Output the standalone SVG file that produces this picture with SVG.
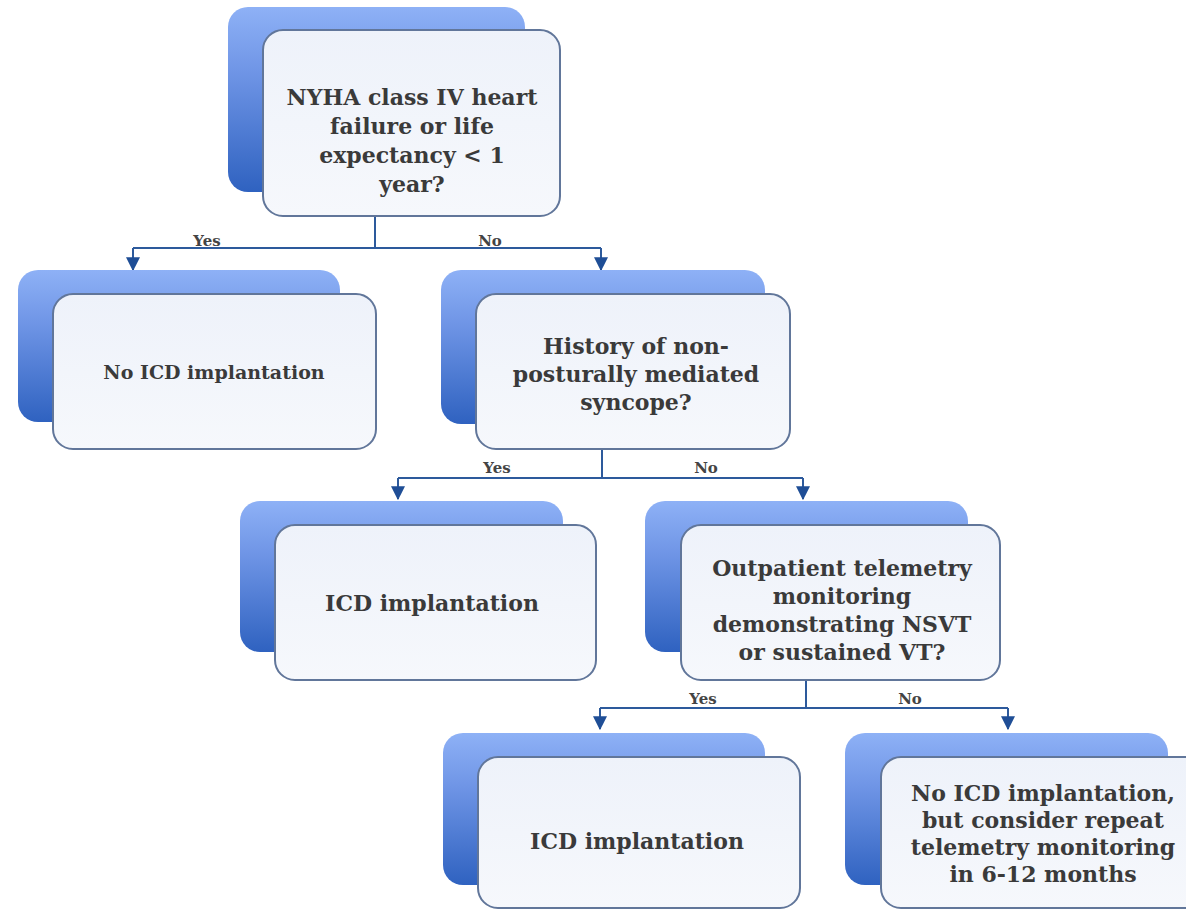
<svg xmlns="http://www.w3.org/2000/svg" width="1186" height="910" viewBox="0 0 1186 910">
  <defs>
    <linearGradient id="backFill" x1="0" y1="0" x2="0" y2="1">
      <stop offset="0" stop-color="#8eb1f6"/>
      <stop offset="0.35" stop-color="#6f95e6"/>
      <stop offset="1" stop-color="#2f62c0"/>
    </linearGradient>
    <linearGradient id="frontFill" x1="0" y1="0" x2="0" y2="1">
      <stop offset="0" stop-color="#eef2fa"/>
      <stop offset="1" stop-color="#f6f8fc"/>
    </linearGradient>
    <marker id="arrowhead" viewBox="0 0 12 12" refX="11" refY="6" markerWidth="14" markerHeight="14" markerUnits="userSpaceOnUse" orient="auto">
      <path d="M0,0 L12,6 L0,12 Z" fill="#1f4e96"/>
    </marker>
  </defs>
  <style>
    .back { fill: url(#backFill); }
    .front { fill: url(#frontFill); stroke: #61769a; stroke-width: 2; }
    .txt { font-family: "DejaVu Serif", "Liberation Serif", serif; font-weight: bold; fill: #3a3a3a; text-anchor: middle; font-size: 22px; }
    .lbl { font-family: "DejaVu Serif", "Liberation Serif", serif; font-weight: bold; fill: #444; font-size: 15px; text-anchor: middle; }
    .wire { fill: none; stroke: #2d5a9c; stroke-width: 2; }
  </style>
  <rect width="1186" height="910" fill="#ffffff"/>

  <!-- connectors -->
  <g id="connectors">
    <path class="wire" d="M375,216 V248 M133,248 H601"/>
    <path class="wire" d="M133,248 V270" marker-end="url(#arrowhead)"/>
    <path class="wire" d="M601,248 V270" marker-end="url(#arrowhead)"/>
    <text class="lbl" x="207" y="246">Yes</text>
    <text class="lbl" x="490" y="246">No</text>

    <path class="wire" d="M602,449 V478 M398,478 H803"/>
    <path class="wire" d="M398,478 V499" marker-end="url(#arrowhead)"/>
    <path class="wire" d="M803,478 V499" marker-end="url(#arrowhead)"/>
    <text class="lbl" x="497" y="473">Yes</text>
    <text class="lbl" x="706" y="473">No</text>

    <path class="wire" d="M806,680 V708 M600,708 H1008"/>
    <path class="wire" d="M600,708 V729" marker-end="url(#arrowhead)"/>
    <path class="wire" d="M1008,708 V729" marker-end="url(#arrowhead)"/>
    <text class="lbl" x="703" y="704">Yes</text>
    <text class="lbl" x="910" y="704">No</text>
  </g>

  <!-- decision: NYHA class IV -->
  <g id="node-nyha">
    <rect class="back" x="228" y="7" width="297" height="185" rx="20"/>
    <rect class="front" x="263" y="30" width="297" height="186" rx="20"/>
    <text class="txt" x="412" y="105">NYHA class IV heart</text>
    <text class="txt" x="412" y="134">failure or life</text>
    <text class="txt" x="412" y="163">expectancy &lt; 1</text>
    <text class="txt" x="412" y="192">year?</text>
  </g>

  <!-- outcome: no ICD -->
  <g id="node-no-icd">
    <rect class="back" x="18" y="270" width="322" height="152" rx="20"/>
    <rect class="front" x="53" y="294" width="323" height="155" rx="20"/>
    <text class="txt" style="font-size:19px" x="214" y="379">No ICD implantation</text>
  </g>

  <!-- decision: syncope history -->
  <g id="node-syncope">
    <rect class="back" x="441" y="270" width="324" height="154" rx="20"/>
    <rect class="front" x="476" y="294" width="314" height="155" rx="20"/>
    <text class="txt" x="636" y="354">History of non-</text>
    <text class="txt" x="636" y="382">posturally mediated</text>
    <text class="txt" x="636" y="410">syncope?</text>
  </g>

  <!-- outcome: ICD implantation -->
  <g id="node-icd-1">
    <rect class="back" x="240" y="501" width="323" height="151" rx="20"/>
    <rect class="front" x="275" y="525" width="321" height="155" rx="20"/>
    <text class="txt" x="432" y="611">ICD implantation</text>
  </g>

  <!-- decision: telemetry monitoring -->
  <g id="node-telemetry">
    <rect class="back" x="645" y="501" width="323" height="151" rx="20"/>
    <rect class="front" x="681" y="525" width="319" height="155" rx="20"/>
    <text class="txt" x="842" y="576">Outpatient telemetry</text>
    <text class="txt" x="842" y="604">monitoring</text>
    <text class="txt" x="842" y="632">demonstrating NSVT</text>
    <text class="txt" x="842" y="660">or sustained VT?</text>
  </g>

  <!-- outcome: ICD implantation -->
  <g id="node-icd-2">
    <rect class="back" x="443" y="733" width="322" height="152" rx="20"/>
    <rect class="front" x="478" y="757" width="322" height="151" rx="20"/>
    <text class="txt" x="637" y="849">ICD implantation</text>
  </g>

  <!-- outcome: repeat telemetry -->
  <g id="node-repeat">
    <rect class="back" x="845" y="733" width="323" height="152" rx="20"/>
    <rect class="front" x="881" y="757" width="324" height="151" rx="20"/>
    <text class="txt" x="1043" y="801">No ICD implantation,</text>
    <text class="txt" x="1043" y="828">but consider repeat</text>
    <text class="txt" x="1043" y="855">telemetry monitoring</text>
    <text class="txt" x="1043" y="882">in 6-12 months</text>
  </g>
</svg>
